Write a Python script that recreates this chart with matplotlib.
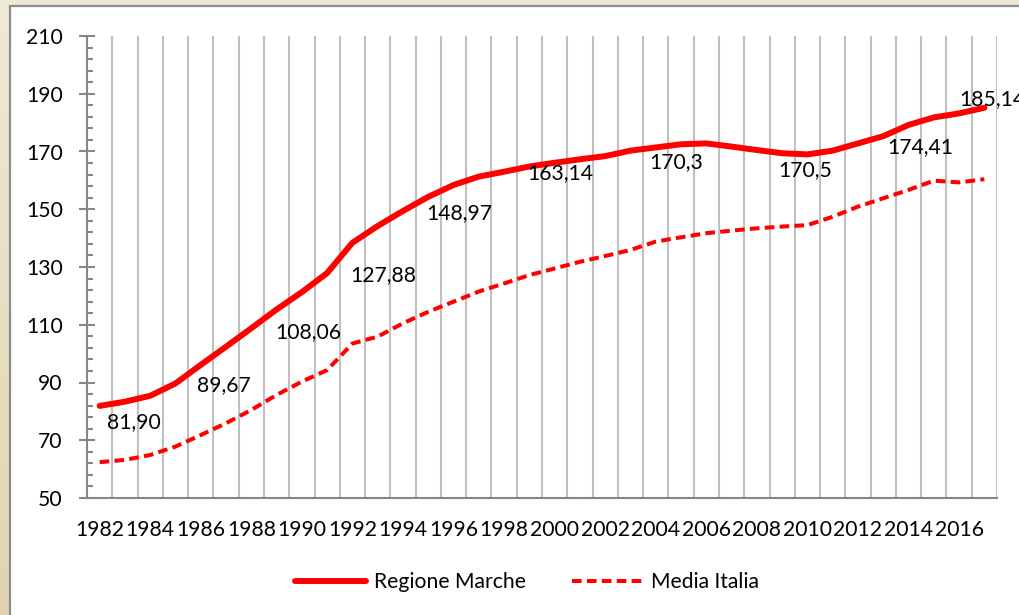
import matplotlib
matplotlib.use('Agg')
import matplotlib.pyplot as plt
from matplotlib.patches import Rectangle
from matplotlib.ticker import MultipleLocator, FixedLocator
from matplotlib.colors import LinearSegmentedColormap
import numpy as np

years = list(range(1982, 2018))
marche = [81.90, 83.35, 85.4, 89.67, 96.1, 102.4, 108.8, 115.3, 121.3, 127.9,
          138.4, 144.2, 149.4, 154.3, 158.4, 161.3, 163.0, 164.8, 166.1, 167.3,
          168.4, 170.3, 171.4, 172.5, 172.8, 171.7, 170.5, 169.4, 169.0, 170.3,
          172.8, 175.3, 179.2, 181.8, 183.2, 185.14]
italia = [62.4, 63.2, 64.9, 67.8, 71.8, 75.9, 80.5, 85.7, 90.3, 94.3,
          103.5, 105.9, 110.5, 114.5, 118.0, 121.5, 124.3, 127.2, 129.5, 131.8,
          133.8, 135.9, 138.8, 140.3, 141.7, 142.6, 143.4, 144.0, 144.5, 147.4,
          150.9, 153.8, 156.7, 159.9, 159.3, 160.4]
tick_years = years[::2]
y_ticks = [50, 70, 90, 110, 130, 150, 170, 190, 210]
label_years = [1982, 1985, 1988, 1991, 1994, 1998, 2003, 2008, 2013, 2017]
label_texts = ['81,90', '89,67', '108,06', '127,88', '148,97', '163,14',
               '170,3', '170,5', '174,41', '185,14']
label_offsets = [(7, -16), (22, -2), (24, -4), (23, -2), (23, -2), (23, -1),
                 (19, -11), (21, -20), (4, -11), (-25, 9)]
series_names = ['Regione Marche', 'Media Italia']

FONT = 'Lato'
FS = 15.2
RED = '#FF0000'
GRAY_AX = '#868686'
GRID = '#C0C0C0'

W, H = 1019, 615
fig = plt.figure(figsize=(W / 100, H / 100), dpi=100)
fig.patch.set_facecolor('#EDE8D3')

# beige gradient backdrop
bg = fig.add_axes([0, 0, 1, 1], zorder=-20)
bg.axis('off')
cmap = LinearSegmentedColormap.from_list('bg', ['#EEEAD7', '#E1D4AE'])
bg.imshow(np.linspace(0, 1, 256).reshape(-1, 1), aspect='auto', cmap=cmap,
          extent=[0, 1, 0, 1], origin='upper')

# white chart area with grey frame
fig.patches.append(Rectangle((10 / W, -0.05), 1.1, 1 - 6 / H + 0.05,
                             transform=fig.transFigure, facecolor='white',
                             edgecolor='#8C8C8C', linewidth=1.6, zorder=-10))

ax = fig.add_axes([87 / W, 1 - 498 / H, (997 - 87) / W, (498 - 36) / H])
ax.set_facecolor('none')

x = np.arange(len(years))
ax.plot(x, marche, color=RED, lw=4.3, solid_capstyle='round',
        solid_joinstyle='round', label=series_names[0], zorder=3)
ax.plot(x, italia, color=RED, lw=2.9, linestyle=(0, (2.4, 1.3)),
        label=series_names[1], zorder=3)

for yr, txt, (dx, dy) in zip(label_years, label_texts, label_offsets):
    i = years.index(yr)
    ax.annotate(txt, xy=(i, marche[i]), xytext=(dx, dy),
                textcoords='offset pixels', ha='left', va='center',
                fontsize=FS, family=FONT, color='black', zorder=4,
                annotation_clip=False)

ax.set_xlim(-0.5, len(years) - 0.5)
ax.set_ylim(50, 210)

ax.set_xticks([years.index(y) for y in tick_years])
ax.set_xticklabels([str(y) for y in tick_years], fontsize=FS, family=FONT)
ax.xaxis.set_minor_locator(FixedLocator(np.arange(0.5, len(years), 1)))
ax.grid(True, axis='x', which='minor', color=GRID, lw=1.5, zorder=1)
ax.tick_params(axis='x', which='both', length=0, pad=16)

ax.yaxis.set_major_locator(FixedLocator(y_ticks))
ax.yaxis.set_minor_locator(MultipleLocator(4, offset=2))
ax.tick_params(axis='y', which='major', direction='inout', length=11,
               width=1.5, color=GRAY_AX, pad=12, labelsize=FS)
ax.tick_params(axis='y', which='minor', direction='in', length=4,
               width=1.5, color=GRAY_AX)
for lab in ax.get_yticklabels():
    lab.set_family(FONT)

for s in ['top', 'right']:
    ax.spines[s].set_visible(False)
for s in ['left', 'bottom']:
    ax.spines[s].set_color(GRAY_AX)
    ax.spines[s].set_linewidth(1.5)
ax.spines['left'].set_zorder(5)

leg = fig.legend(loc='center', bbox_to_anchor=(527 / W, 1 - 582 / H),
                 ncol=2, frameon=False, handlelength=3.4, handletextpad=0.35,
                 columnspacing=2.2, prop={'family': FONT, 'size': FS})

fig.savefig('out.png', dpi=100, facecolor=fig.get_facecolor())
